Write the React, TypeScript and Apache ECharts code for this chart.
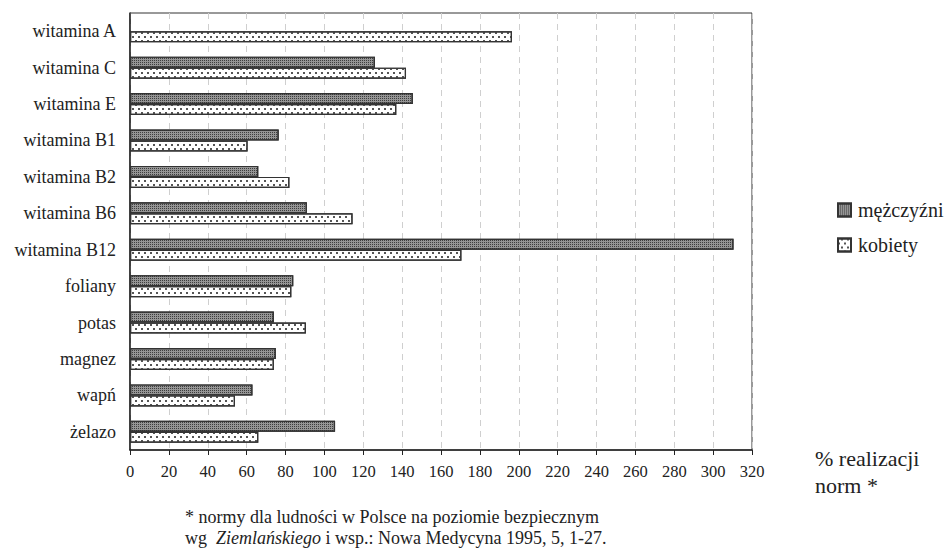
import React, { useEffect, useRef } from "react";
import * as echarts from "echarts";

const categories = [
  "witamina A",
  "witamina C",
  "witamina E",
  "witamina B1",
  "witamina B2",
  "witamina B6",
  "witamina B12",
  "foliany",
  "potas",
  "magnez",
  "wapń",
  "żelazo",
];
const men: (number | null)[] = [null, 126, 145.5, 76.5, 66, 91, 310.5, 84, 74, 75, 63, 105.5];
const women: number[] = [196.5, 142, 137, 60.5, 82, 114.5, 170.5, 83, 90.5, 74, 54, 66];
const xTicks = { min: 0, max: 320, interval: 20 };
const seriesNames = ["mężczyźni", "kobiety"];
const axisTitle = "% realizacji\nnorm *";
const footnote1 = "* normy dla ludności w Polsce na poziomie bezpiecznym";
const footnote2a = "wg  ";
const footnote2b = "Ziemlańskiego";
const footnote2c = " i wsp.: Nowa Medycyna 1995, 5, 1-27.";

const FONT = "Liberation Serif";

export default function App() {
  const ref = useRef<HTMLDivElement>(null);
  useEffect(() => {
    if (!ref.current) return;
    const chart = echarts.init(ref.current, undefined, { renderer: "svg" });
    chart.setOption({
      animation: false,
      backgroundColor: "#ffffff",
      textStyle: { fontFamily: FONT, color: "#222" },
      grid: {
        left: 130,
        top: 13,
        width: 622,
        height: 437,
        show: true,
        borderColor: "#333",
        borderWidth: 1,
        backgroundColor: "transparent",
      },
      legend: {
        orient: "vertical",
        left: 837,
        top: 200,
        padding: 0,
        itemWidth: 13,
        itemHeight: 13,
        itemGap: 15,
        icon: "rect",
        data: seriesNames,
        textStyle: { fontFamily: FONT, fontSize: 20, color: "#222", padding: [0, 0, 0, 2] },
        selectedMode: false,
      },
      xAxis: {
        type: "value",
        min: xTicks.min,
        max: xTicks.max,
        interval: xTicks.interval,
        axisLine: { show: true, lineStyle: { color: "#222", width: 1.5 } },
        axisTick: { show: true, length: 5, lineStyle: { color: "#222" } },
        axisLabel: { fontFamily: FONT, fontSize: 16.5, color: "#222", margin: 13 },
        splitLine: { show: true, lineStyle: { color: "#cfcfcf", type: [6, 5], width: 1 } },
      },
      yAxis: {
        type: "category",
        data: categories,
        inverse: true,
        axisLine: { show: true, lineStyle: { color: "#222", width: 1.5 } },
        axisTick: { show: false },
        axisLabel: { fontFamily: FONT, fontSize: 18, color: "#222", margin: 14 },
        splitLine: { show: false },
      },
      series: [
        {
          name: seriesNames[0],
          type: "bar",
          data: men,
          barWidth: 11,
          barGap: "0%",
          itemStyle: {
            color: "#959595",
            borderColor: "#333",
            borderWidth: 1.2,
            decal: {
              symbol: "rect",
              symbolSize: 1,
              dashArrayX: [1, 1],
              dashArrayY: [1, 1],
              rotation: 0,
              color: "rgba(40,40,40,0.8)",
            },
          },
        },
        {
          name: seriesNames[1],
          type: "bar",
          data: women,
          barWidth: 11,
          barGap: "0%",
          itemStyle: {
            color: "#ffffff",
            borderColor: "#333",
            borderWidth: 1.2,
            decal: {
              symbol: "rect",
              symbolSize: 1,
              dashArrayX: [[1.5, 3.5], [0, 2.5, 1.5, 1]],
              dashArrayY: [1.5, 1.5],
              rotation: 0,
              color: "#555",
            },
          },
        },
      ],
      graphic: [
        {
          type: "text",
          left: 815,
          top: 445,
          style: {
            text: axisTitle,
            fontFamily: FONT,
            fontSize: 22,
            lineHeight: 27,
            fill: "#222",
          },
        },
        {
          type: "text",
          left: 185,
          top: 508,
          style: {
            text: footnote1,
            fontFamily: FONT,
            fontSize: 18,
            fill: "#222",
          },
        },
        {
          type: "text",
          left: 185,
          top: 529,
          style: {
            text: "{a|" + footnote2a + "}{b|" + footnote2b + "}{a|" + footnote2c + "}",
            fontFamily: FONT,
            fontSize: 18,
            fill: "#222",
            rich: {
              a: { fontFamily: FONT, fontSize: 18, fill: "#222" },
              b: { fontFamily: FONT, fontSize: 18, fontStyle: "italic", fill: "#222" },
            },
          },
        },
      ],
    });
    return () => chart.dispose();
  }, []);
  return (
    <div
      ref={ref}
      style={{ position: "fixed", left: 0, top: 0, width: 946, height: 553, background: "#fff" }}
    />
  );
}
